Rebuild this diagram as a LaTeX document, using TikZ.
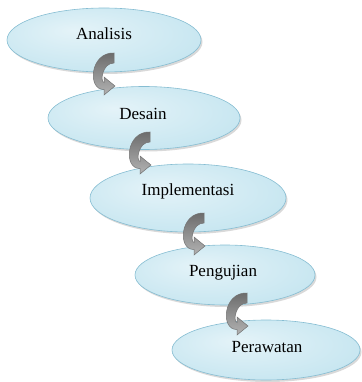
\documentclass[tikz,border=0pt]{standalone}
\usepackage{fontspec}
\setmainfont{Liberation Serif}
\newfontfamily\labelfont{Liberation Serif}
\usetikzlibrary{shapes.geometric,shadows}
\definecolor{ellin}{HTML}{E4F3F8}
\definecolor{ellmid}{HTML}{C9E7F1}
\definecolor{ellout}{HTML}{A2D1E2}
\definecolor{ellrim}{HTML}{86BDD2}
\pgfdeclareradialshading{ellshade}{\pgfpoint{-8bp}{8bp}}{color(0bp)=(ellin); color(28bp)=(ellmid); color(50bp)=(ellout)}
\tikzset{
  phase/.style={ellipse, inner sep=0pt, draw=ellrim, line width=0.6pt, shading=ellshade,
    drop shadow={shadow xshift=1.5pt, shadow yshift=-2pt, opacity=0.25, fill=black!60}},
  lbl/.style={anchor=base, font=\labelfont\fontsize{17}{20}\selectfont, text=black, inner sep=0pt},
  turn/.style={draw=black!55, line width=0.5pt, top color=black!58, middle color=black!4, bottom color=black!30},
  turnarrow/.pic={
    \path[turn] (0,0) .. controls (-24,-1) and (-27,37) .. (-10,36.5)
      -- (-10,42) -- (1,33) -- (-10,24) -- (-10,29.5)
      .. controls (-14,29) and (-12,10) .. (0,10) -- cycle;
  }
}
\begin{document}
\begin{tikzpicture}[x=1pt,y=-1pt]
\useasboundingbox (0,0) rectangle (361,382);
\node[phase, minimum width=194pt, minimum height=64pt] (e1) at (104,40) {};
\node[phase, minimum width=192pt, minimum height=63pt] (e2) at (144,118) {};
\node[phase, minimum width=196pt, minimum height=68pt] (e3) at (188,198) {};
\node[phase, minimum width=180pt, minimum height=60pt] (e4) at (225,275) {};
\node[phase, minimum width=188pt, minimum height=60pt] (e5) at (266,350) {};
\node[lbl] (t1) at (104,40) {Analisis};
\node[lbl] (t2) at (143,120) {Desain};
\node[lbl] (t3) at (188,195) {Implementasi};
\node[lbl] (t4) at (223,276) {Pengujian};
\node[lbl] (t5) at (267,352) {Perawatan};
\pic at (114,53) {turnarrow};
\pic at (150,132) {turnarrow};
\pic at (204,213) {turnarrow};
\pic at (247,293) {turnarrow};
\end{tikzpicture}
\end{document}
